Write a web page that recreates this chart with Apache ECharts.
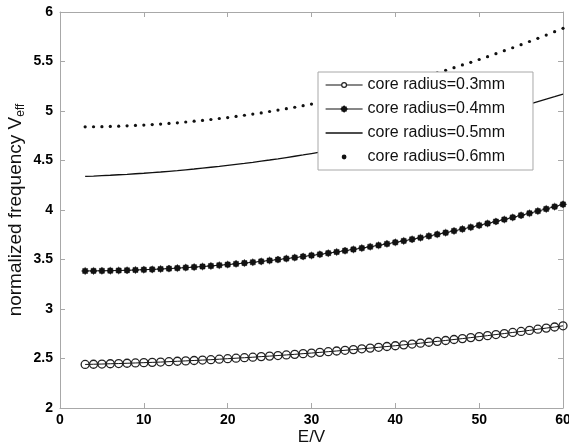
<!DOCTYPE html>
<html>
<head>
<meta charset="utf-8">
<script src="https://cdn.jsdelivr.net/npm/echarts@6/dist/echarts.min.js"></script>
<style>
  html, body { margin: 0; padding: 0; background: #fff; }
  #chart { width: 569px; height: 448px; }
</style>
</head>
<body>
<div id="chart"></div>
<script>
// Field E/V sampled at integer steps
const fieldE = [3,4,5,6,7,8,9,10,11,12,13,14,15,16,17,18,19,20,21,22,23,24,25,26,27,28,29,30,
  31,32,33,34,35,36,37,38,39,40,41,42,43,44,45,46,47,48,49,50,51,52,53,54,55,56,57,58,59,60];

// Normalized frequency V_eff for each core radius
const vCore03 = [2.440,2.442,2.444,2.447,2.449,2.452,2.455,2.458,2.461,2.464,2.468,2.472,2.476,2.480,
  2.484,2.488,2.493,2.498,2.503,2.508,2.513,2.519,2.524,2.530,2.536,2.542,2.549,2.555,2.562,2.569,
  2.576,2.583,2.590,2.598,2.605,2.613,2.621,2.629,2.638,2.646,2.655,2.664,2.673,2.682,2.692,2.701,
  2.711,2.721,2.731,2.742,2.752,2.763,2.773,2.784,2.796,2.807,2.818,2.830];
const vCore04 = [3.384,3.385,3.386,3.387,3.389,3.391,3.394,3.397,3.400,3.404,3.408,3.413,3.418,3.423,
  3.429,3.435,3.442,3.449,3.456,3.464,3.472,3.481,3.490,3.499,3.509,3.519,3.530,3.541,3.552,3.564,
  3.576,3.589,3.602,3.615,3.629,3.643,3.658,3.673,3.688,3.704,3.720,3.737,3.754,3.771,3.789,3.807,
  3.826,3.845,3.864,3.884,3.904,3.925,3.946,3.967,3.989,4.011,4.034,4.057];
const vCore05 = [4.340,4.343,4.347,4.351,4.356,4.360,4.366,4.371,4.378,4.384,4.391,4.398,4.406,4.414,
  4.423,4.432,4.441,4.451,4.461,4.471,4.482,4.494,4.505,4.517,4.530,4.543,4.556,4.570,4.584,4.599,
  4.614,4.629,4.645,4.661,4.678,4.695,4.712,4.730,4.748,4.766,4.785,4.805,4.825,4.845,4.865,4.886,
  4.908,4.930,4.952,4.975,4.998,5.021,5.045,5.069,5.094,5.119,5.144,5.170];
const vCore06 = [4.840,4.841,4.842,4.844,4.847,4.850,4.854,4.858,4.863,4.868,4.875,4.881,4.889,4.897,
  4.905,4.914,4.924,4.934,4.945,4.957,4.969,4.981,4.995,5.009,5.023,5.038,5.054,5.070,5.087,5.104,
  5.122,5.141,5.160,5.180,5.201,5.222,5.243,5.265,5.288,5.312,5.336,5.360,5.386,5.411,5.438,5.465,
  5.492,5.520,5.549,5.579,5.609,5.639,5.670,5.702,5.734,5.767,5.801,5.835];

const seriesNames = ['core radius=0.3mm','core radius=0.4mm','core radius=0.5mm','core radius=0.6mm'];
const xTicks = { min: 0, max: 60, step: 10 };
const yTicks = { min: 2, max: 6, step: 0.5 };

const pairs = v => fieldE.map((e, i) => [e, v[i]]);

const FONT = 'Liberation Sans, Arial, Helvetica, sans-serif';
const AXIS_GRAY = '#a8a8a8';
const INK = '#111';
// eight-pointed blob used for the 0.4mm markers
const STAR = 'path://M20 10 L17.4 13.1 L17.07 17.07 L13.1 17.4 L10 20 L6.9 17.4 L2.93 17.07 L2.6 13.1 L0 10 L2.6 6.9 L2.93 2.93 L6.9 2.6 L10 0 L13.1 2.6 L17.07 2.93 L17.4 6.9 Z';
// plain line icon for the unmarked series
const LINE_ICON = 'path://M0 0 H37 V1.3 H0 Z';

const boxAxis = (extra) => Object.assign({
  type: 'value',
  axisLine: { show: true, onZero: false, lineStyle: { color: AXIS_GRAY, width: 1 } },
  axisTick: { show: true, inside: true, length: 5, lineStyle: { color: AXIS_GRAY } },
  splitLine: { show: false }
}, extra);

const tickFont = { color: '#000', fontSize: 14, fontWeight: 'bold', fontFamily: FONT };

const chart = echarts.init(document.getElementById('chart'), null, { renderer: 'canvas' });
chart.setOption({
  animation: false,
  backgroundColor: '#fff',
  textStyle: { fontFamily: FONT },
  grid: { left: 60, right: 6, top: 12, bottom: 40, containLabel: false, outerBoundsMode: 'none' },
  xAxis: [
    boxAxis({
      position: 'bottom', min: xTicks.min, max: xTicks.max, interval: xTicks.step,
      axisLabel: Object.assign({ margin: 5 }, tickFont),
      name: 'E/V', nameLocation: 'middle', nameGap: 21, nameMoveOverlap: false,
      nameTextStyle: { color: INK, fontSize: 17, fontFamily: FONT }
    }),
    boxAxis({
      position: 'top', min: xTicks.min, max: xTicks.max, interval: xTicks.step,
      axisLabel: { show: false }
    })
  ],
  yAxis: [
    boxAxis({
      position: 'left', min: yTicks.min, max: yTicks.max, interval: yTicks.step,
      axisLabel: Object.assign({ margin: 7 }, tickFont),
      name: '{a|normalized frequency V}{b|eff}', nameLocation: 'middle', nameGap: 33, nameRotate: 90,
      nameMoveOverlap: false,
      nameTextStyle: {
        color: INK, fontFamily: FONT,
        rich: {
          a: { fontSize: 19, lineHeight: 22, color: INK, fontFamily: FONT },
          b: { fontSize: 12, lineHeight: 12, verticalAlign: 'bottom', color: INK, fontFamily: FONT }
        }
      }
    }),
    boxAxis({
      position: 'right', min: yTicks.min, max: yTicks.max, interval: yTicks.step,
      axisLabel: { show: false }
    })
  ],
  legend: {
    orient: 'vertical',
    left: 318, top: 72,
    padding: [5, 28, 5, 7],
    itemWidth: 37, itemHeight: 6, itemGap: 8,
    backgroundColor: '#fff',
    borderColor: '#a8a8a8', borderWidth: 1, borderRadius: 0,
    textStyle: { color: INK, fontSize: 16, lineHeight: 16, fontFamily: FONT },
    data: [
      { name: seriesNames[0], lineStyle: { width: 1.2 }, itemStyle: { color: '#fff', borderColor: '#222', borderWidth: 1.2 } },
      { name: seriesNames[1], lineStyle: { width: 1.2 } },
      { name: seriesNames[2], icon: LINE_ICON, itemStyle: { color: INK, borderWidth: 0 } },
      { name: seriesNames[3] }
    ]
  },
  series: [
    {
      name: seriesNames[0], type: 'line', data: pairs(vCore03),
      symbol: 'circle', symbolSize: 8, showAllSymbol: true,
      lineStyle: { color: INK, width: 1 },
      itemStyle: { color: 'rgba(255,255,255,0)', borderColor: '#222', borderWidth: 1.3 }
    },
    {
      name: seriesNames[1], type: 'line', data: pairs(vCore04),
      symbol: STAR, symbolSize: 7, showAllSymbol: true,
      lineStyle: { color: INK, width: 1 },
      itemStyle: { color: INK, borderColor: INK, borderWidth: 0.5 }
    },
    {
      name: seriesNames[2], type: 'line', data: pairs(vCore05),
      symbol: 'none',
      lineStyle: { color: INK, width: 1.3 },
      itemStyle: { color: INK }
    },
    {
      name: seriesNames[3], type: 'line', data: pairs(vCore06),
      symbol: 'circle', symbolSize: 3.2, showAllSymbol: true,
      lineStyle: { width: 0, opacity: 0 },
      itemStyle: { color: INK }
    }
  ]
});
</script>
</body>
</html>
